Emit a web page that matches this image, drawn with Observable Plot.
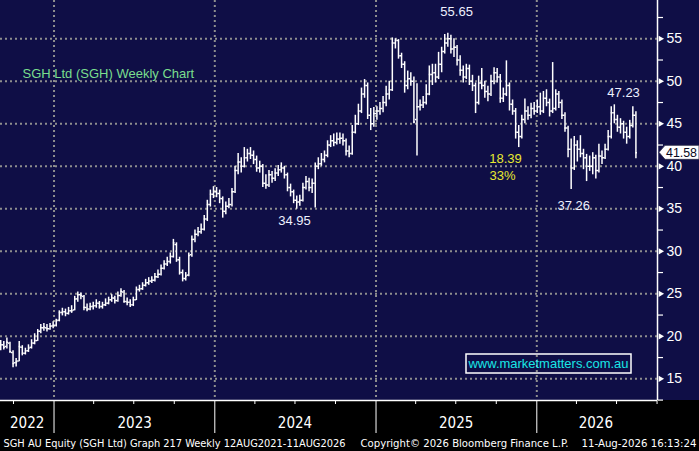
<!DOCTYPE html>
<html>
<head>
<meta charset="utf-8">
<script src="https://cdn.jsdelivr.net/npm/d3@7"></script>
<script src="https://cdn.jsdelivr.net/npm/@observablehq/plot@0.6"></script>
<style>
  html, body { margin: 0; padding: 0; background: #000; }
  #chart svg { display: block; }
</style>
</head>
<body>
<div id="chart"></div>
<script>
// ---- Data (weekly OHLC, Fridays) ----
const firstWeek = "2022-09-02";
const lastWeek = "2026-08-14";

const opens = [
  18.6, 19.0, 18.8, 19.2, 18.1, 16.9, 17.1, 18.7, 18.0, 18.3,
  18.7, 19.2, 19.5, 20.6, 21.0, 21.0, 20.9, 21.2, 21.3, 21.9,
  22.8, 22.9, 22.7, 23.0, 23.1, 24.4, 24.9, 24.7, 23.4, 23.2,
  23.5, 23.6, 23.9, 23.5, 23.7, 23.9, 24.3, 24.5, 24.2, 24.8,
  25.2, 24.1, 24.0, 23.7, 24.3, 25.5, 25.6, 26.0, 26.3, 26.5,
  26.6, 27.0, 27.3, 28.0, 28.5, 28.8, 29.4, 30.8, 29.0, 27.5,
  26.8, 27.2, 29.6, 31.4, 32.0, 32.3, 32.6, 33.8, 35.5, 36.7,
  37.0, 36.8, 36.2, 34.7, 35.3, 35.5, 37.0, 39.5, 40.5, 40.0,
  41.0, 41.5, 41.3, 40.8, 39.8, 40.0, 38.0, 37.8, 39.0, 38.6,
  39.2, 39.6, 39.8, 39.0, 37.5, 37.0, 36.0, 35.8, 36.0, 37.5,
  38.2, 37.5, 38.0, 40.0, 40.3, 40.8, 41.3, 42.5, 43.0, 42.8,
  43.2, 43.3, 43.0, 41.8, 41.5, 44.0, 45.0, 46.5, 48.5, 49.5,
  46.0, 45.0, 46.2, 46.5, 46.8, 47.5, 48.5, 49.0, 54.5, 54.8,
  53.0, 52.0, 49.5, 50.3, 50.0, 45.5, 47.0, 47.2, 47.5, 48.5,
  50.8, 51.0, 50.5, 52.0, 53.5, 54.5, 55.0, 53.8, 54.0, 52.5,
  51.3, 50.5, 51.5, 50.0, 49.5, 47.5, 49.8, 49.5, 48.8, 48.5,
  50.0, 51.0, 50.5, 48.0, 48.5, 49.5, 47.3, 46.5, 44.0, 43.5,
  45.5, 46.5, 46.0, 46.8, 46.5, 47.0, 46.5, 48.0, 47.5, 46.5,
  46.8, 48.5, 47.5, 46.0, 44.5, 42.0, 39.8, 42.5, 42.0, 41.5,
  41.0, 40.0, 40.0, 41.0, 39.5, 41.2, 41.0, 42.0, 43.5, 46.3,
  45.5, 44.6, 45.0, 44.0, 43.5, 44.8, 46.0
];
const highs = [
  19.5, 19.4, 19.8, 19.3, 18.3, 17.4, 19.4, 18.9, 18.6, 19.0,
  19.6, 20.3, 20.8, 21.4, 21.5, 21.4, 21.5, 21.7, 22.0, 23.0,
  23.3, 23.2, 23.4, 23.6, 24.7, 25.2, 25.1, 24.8, 23.8, 23.9,
  24.0, 24.3, 24.1, 24.0, 24.4, 24.6, 24.9, 24.7, 25.2, 25.6,
  25.4, 24.5, 24.3, 24.6, 25.8, 26.0, 26.3, 26.7, 26.9, 27.0,
  27.4, 27.8, 28.4, 28.9, 29.3, 29.8, 31.4, 31.0, 29.3, 27.8,
  27.5, 29.8, 31.8, 32.5, 32.8, 33.2, 34.2, 36.0, 37.2, 37.6,
  37.5, 37.2, 36.4, 35.8, 36.2, 37.4, 40.0, 41.5, 41.0, 42.2,
  42.0, 42.2, 41.8, 41.2, 40.6, 40.2, 39.0, 39.5, 39.4, 39.7,
  40.1, 40.4, 40.0, 39.2, 37.9, 37.2, 36.5, 36.6, 38.0, 38.8,
  38.6, 38.5, 40.4, 41.0, 41.5, 41.8, 43.0, 43.6, 43.8, 43.9,
  43.9, 43.8, 43.2, 42.4, 44.8, 46.0, 47.3, 49.2, 50.2, 49.8,
  46.8, 46.9, 47.0, 47.5, 48.2, 49.4, 50.0, 55.1, 55.0, 54.9,
  53.3, 52.3, 51.2, 51.0, 50.5, 49.7, 47.8, 48.2, 49.6, 51.8,
  52.0, 52.0, 53.4, 54.0, 55.5, 55.65, 55.4, 55.0, 54.2, 53.0,
  51.8, 52.0, 51.9, 50.7, 49.8, 50.6, 51.5, 50.0, 49.4, 50.7,
  51.6, 51.5, 50.8, 49.2, 52.4, 49.8, 47.8, 46.8, 44.8, 46.0,
  47.9, 47.0, 47.4, 47.5, 47.8, 48.6, 48.8, 49.0, 47.9, 52.2,
  49.0, 48.8, 47.8, 46.3, 44.7, 43.2, 43.5, 43.0, 43.6, 42.0,
  41.4, 41.2, 41.6, 41.3, 42.6, 41.8, 42.6, 44.2, 47.0, 47.23,
  46.0, 45.6, 45.3, 44.6, 45.4, 47.0, 46.4
];
const lows = [
  18.3, 18.4, 18.5, 18.0, 16.3, 16.4, 17.0, 17.7, 17.8, 18.1,
  18.5, 19.0, 19.4, 20.3, 20.6, 20.5, 20.7, 20.9, 21.1, 21.7,
  22.4, 22.3, 22.5, 22.7, 23.0, 24.0, 24.3, 23.0, 22.9, 23.0,
  23.1, 23.3, 23.2, 23.2, 23.5, 23.7, 24.0, 23.8, 24.0, 24.6,
  23.9, 23.6, 23.4, 23.5, 24.2, 25.2, 25.4, 25.8, 26.0, 26.2,
  26.4, 26.8, 27.1, 27.8, 28.2, 28.5, 29.2, 28.7, 27.2, 26.4,
  26.5, 27.0, 29.3, 31.0, 31.7, 32.0, 32.4, 33.5, 35.2, 36.2,
  36.3, 35.6, 33.9, 34.3, 35.0, 35.2, 36.8, 39.0, 39.2, 39.8,
  40.5, 40.8, 40.2, 39.3, 39.2, 37.5, 37.3, 37.5, 38.0, 38.2,
  38.8, 39.2, 38.5, 37.0, 36.4, 35.6, 34.95, 35.3, 35.8, 37.2,
  37.0, 36.8, 35.1, 39.6, 40.0, 40.4, 41.0, 42.2, 42.3, 42.5,
  42.6, 42.4, 41.2, 41.0, 41.3, 43.8, 44.8, 46.2, 48.0, 45.5,
  44.2, 44.6, 45.4, 46.0, 46.3, 47.0, 47.8, 48.8, 53.8, 52.6,
  51.5, 48.6, 49.0, 49.4, 45.0, 41.2, 46.5, 46.8, 47.2, 48.3,
  49.5, 49.8, 50.2, 51.0, 53.2, 54.0, 53.2, 52.8, 51.8, 50.6,
  49.8, 50.2, 49.5, 48.8, 46.2, 47.2, 49.0, 48.0, 47.6, 48.2,
  49.6, 49.8, 47.4, 47.5, 48.2, 46.5, 46.0, 43.2, 42.2, 43.2,
  45.0, 45.4, 45.6, 46.0, 46.2, 46.0, 46.2, 47.0, 45.8, 46.2,
  46.5, 46.8, 45.5, 44.0, 41.0, 37.26, 39.5, 40.5, 41.0, 39.6,
  38.2, 39.4, 39.0, 38.5, 39.2, 40.2, 40.8, 41.8, 43.2, 45.0,
  44.0, 43.8, 43.2, 42.6, 43.2, 44.5, 40.9
];
const closes = [
  19.0, 18.7, 19.3, 18.2, 16.8, 17.0, 18.8, 18.0, 18.3, 18.6,
  19.2, 19.5, 20.6, 21.0, 21.1, 20.9, 21.2, 21.3, 21.8, 22.8,
  22.9, 22.7, 23.0, 23.0, 24.4, 24.9, 24.8, 23.4, 23.2, 23.5,
  23.6, 23.9, 23.5, 23.7, 23.9, 24.3, 24.5, 24.2, 24.8, 25.3,
  24.1, 24.0, 23.7, 24.3, 25.5, 25.6, 26.0, 26.3, 26.5, 26.6,
  27.0, 27.3, 28.0, 28.5, 28.8, 29.4, 31.0, 29.0, 27.5, 26.8,
  27.1, 29.5, 31.4, 32.0, 32.3, 32.6, 33.8, 35.5, 36.7, 37.0,
  36.8, 36.2, 34.7, 35.3, 35.5, 37.0, 39.5, 40.5, 40.0, 41.0,
  41.5, 41.3, 40.8, 39.8, 40.0, 38.0, 37.8, 39.0, 38.6, 39.2,
  39.6, 39.8, 39.0, 37.5, 37.0, 36.0, 35.8, 36.0, 37.5, 38.2,
  37.5, 38.0, 40.0, 40.3, 40.8, 41.3, 42.5, 43.0, 42.8, 43.2,
  43.3, 43.0, 41.8, 41.5, 44.0, 45.0, 46.5, 48.5, 49.5, 46.0,
  45.0, 46.2, 46.5, 46.8, 47.5, 48.5, 49.0, 54.5, 54.8, 53.0,
  52.0, 49.5, 50.3, 50.0, 45.2, 47.0, 47.2, 47.5, 48.5, 50.8,
  51.0, 50.5, 52.0, 53.5, 54.5, 55.0, 53.8, 54.0, 52.5, 51.3,
  50.5, 51.5, 50.0, 49.5, 47.5, 49.8, 49.5, 48.8, 48.5, 50.0,
  51.0, 50.5, 48.0, 48.5, 49.5, 47.3, 46.5, 44.0, 43.5, 45.5,
  46.5, 46.0, 46.8, 46.5, 47.0, 46.5, 48.0, 47.5, 46.5, 46.8,
  48.5, 47.5, 46.0, 44.5, 42.0, 39.8, 42.5, 42.0, 41.5, 41.0,
  40.0, 40.0, 41.0, 39.5, 41.2, 41.0, 42.0, 43.5, 46.3, 45.5,
  44.6, 45.0, 44.0, 43.5, 44.8, 46.0, 41.58
];

// ---- Axis ticks / labels ----
const yMajorTicks = [15, 20, 25, 30, 35, 40, 45, 50, 55];
const yMinorTicks = [12.5, 17.5, 22.5, 27.5, 32.5, 37.5, 42.5, 47.5, 52.5, 57.5];
const yearStarts = ["2023-01-01", "2024-01-01", "2025-01-01", "2026-01-01"];
const quarterTicks = [
  "2022-10-01", "2023-04-01", "2023-07-01", "2023-10-01",
  "2024-04-01", "2024-07-01", "2024-10-01",
  "2025-04-01", "2025-07-01", "2025-10-01",
  "2026-04-01", "2026-07-01", "2026-10-01"
];
const yearLabels = ["2022", "2023", "2024", "2025", "2026"];
const yearLabelDates = ["2022-11-01", "2023-07-03", "2024-07-01", "2025-07-02", "2026-05-15"];

// ---- Annotations ----
const peakHigh = 55.65, peakDate = "2025-07-03";
const dipLow = 34.95, dipDate = "2024-06-30";
const recentLow = 37.26, recentLowDate = "2026-03-26";
const recentHigh = 47.23, recentHighDate = "2026-07-17";
const dropDate = "2025-10-22";
const titleText = "SGH Ltd (SGH) Weekly Chart";
const footerLeft = "SGH AU Equity (SGH Ltd) Graph 217 Weekly 12AUG2021-11AUG2026";
const footerMid = "Copyright\u00A9 2026 Bloomberg Finance L.P.";
const footerRight = "11-Aug-2026 16:13:24";
const watermark = "www.marketmatters.com.au";

// ---- Build ----
const navy = "#0f0e46";
const gridColor = "#8e8e8e";
const D = s => new Date(s + "T00:00:00Z");
const weeks = d3.utcFriday.range(D(firstWeek), d3.utcDay.offset(D(lastWeek), 1));
const bars = closes.map((c, i) => ({date: weeks[i], open: opens[i], high: highs[i], low: lows[i], close: c}));
const halfWeekTick = 3.5 * 24 * 3600e3;
const xDomain = [new Date("2022-09-01T12:00:00Z"), new Date("2026-10-02T00:00:00Z")];
const yDomain = [12.45, 59.5];
const drop = peakHigh - recentLow;
const dropPct = drop / peakHigh;
const narrow = "'Liberation Sans Narrow', 'DejaVu Sans Condensed', 'Liberation Sans', sans-serif";

const plot = Plot.plot({
  width: 699,
  height: 451,
  marginLeft: 0,
  marginRight: 42,
  marginTop: 0,
  marginBottom: 51,
  style: {background: "#000", color: "#fff", fontFamily: "'Liberation Sans', Arial, sans-serif", fontSize: "13px", overflow: "visible"},
  x: {type: "utc", domain: xDomain, axis: null},
  y: {domain: yDomain, axis: null},
  marks: [
    // grid
    Plot.ruleY(yMajorTicks, {y: d => d, stroke: gridColor, strokeWidth: 2, strokeDasharray: "2,3"}),
    Plot.ruleX(yearStarts, {x: d => D(d), stroke: gridColor, strokeWidth: 2, strokeDasharray: "2,3"}),
    // OHLC bars
    Plot.ruleX(bars, {x: "date", y1: "low", y2: "high", stroke: "#fff", strokeWidth: 1.5}),
    Plot.ruleY(bars, {x1: d => new Date(+d.date - halfWeekTick), x2: "date", y: "open", stroke: "#fff", strokeWidth: 1.5}),
    Plot.ruleY(bars, {x1: "date", x2: d => new Date(+d.date + halfWeekTick), y: "close", stroke: "#fff", strokeWidth: 1.5}),
    // frame lines
    Plot.ruleX([xDomain[1]], {stroke: "#fff", strokeWidth: 1.5}),
    Plot.ruleY([yDomain[0]], {stroke: "#fff", strokeWidth: 1.5}),
    // right axis
    Plot.axisY(yMinorTicks, {anchor: "right", tickSize: 5, tickFormat: () => "", stroke: "#fff", strokeWidth: 1.2}),
    Plot.axisY(yMajorTicks, {anchor: "right", tickSize: 0, tickPadding: 9, fill: "#fff", fontSize: 14}),
    Plot.dot(yMajorTicks, {y: d => d, frameAnchor: "right", symbol: "triangle", rotate: 90, r: 2.3, fill: "#fff", stroke: null, dx: 3}),
    // bottom axis
    Plot.axisX(quarterTicks.map(D), {anchor: "bottom", tickSize: 4, tickFormat: () => "", stroke: "#fff"}),
    Plot.axisX(yearStarts.map(D), {anchor: "bottom", tickSize: 33, tickFormat: () => "", stroke: "#fff", strokeWidth: 1}),
    Plot.text(yearLabels, {x: (d, i) => D(yearLabelDates[i]), text: d => d, frameAnchor: "bottom", dy: 27, fill: "#fff", fontSize: 15, fontFamily: narrow}),
    // annotations
    Plot.text([peakHigh], {x: D(peakDate), y: d => d, text: d => d3.format(".2f")(d), dy: -21, fill: "#eef0ff", fontSize: 13}),
    Plot.text([dipLow], {x: D(dipDate), y: d => d, text: d => d3.format(".2f")(d), dy: 12, fill: "#eef0ff", fontSize: 13}),
    Plot.text([recentLow], {x: D(recentLowDate), y: d => d, text: d => d3.format(".2f")(d), dy: 16, fill: "#eef0ff", fontSize: 13}),
    Plot.text([recentHigh], {x: D(recentHighDate), y: d => d, text: d => d3.format(".2f")(d), dy: -12, fill: "#eef0ff", fontSize: 13}),
    Plot.text([drop], {x: D(dropDate), y: recentLow, text: d => d3.format(".2f")(d), dy: -31, fill: "#e8e830", fontSize: 13}),
    Plot.text([dropPct], {x: D(dropDate), y: recentLow, text: d => d3.format(".0%")(d), dx: -3, dy: -14, fill: "#e8e830", fontSize: 13}),
    // title
    Plot.text([titleText], {text: d => d, frameAnchor: "top-left", dx: 22, dy: 73, textAnchor: "start", lineAnchor: "middle", fill: "#7ade8e", fontSize: 13}),
    // footer
    Plot.text([footerLeft], {text: d => d, frameAnchor: "bottom-left", dx: 3, dy: 43, textAnchor: "start", lineAnchor: "middle", fill: "#fff", fontSize: 11, fontFamily: narrow}),
    Plot.text([footerMid], {text: d => d, frameAnchor: "bottom-left", dx: 360, dy: 43, textAnchor: "start", lineAnchor: "middle", fill: "#fff", fontSize: 11, fontFamily: narrow}),
    Plot.text([footerRight], {text: d => d, frameAnchor: "bottom-left", dx: 581, dy: 43, textAnchor: "start", lineAnchor: "middle", fill: "#fff", fontSize: 11, fontFamily: narrow})
  ]
});

const svg = d3.select(plot);
// navy chart background (plot area + right axis area)
svg.insert("rect", ":first-child")
  .attr("x", 0).attr("y", 0).attr("width", 699).attr("height", 400)
  .attr("fill", navy);

// fit footer text widths
const fits = [[footerLeft, 342], [footerMid, 208], [footerRight, 115]];
svg.selectAll("text").each(function () {
  const f = fits.find(([t]) => t === this.textContent);
  if (f) d3.select(this).attr("textLength", f[1]).attr("lengthAdjust", "spacingAndGlyphs");
});

// last price flag on right axis
const yS = plot.scale("y");
const lastClose = closes[closes.length - 1];
const ly = yS.apply(lastClose);
const fx = 659;
const flag = svg.append("g");
flag.append("path")
  .attr("d", `M${fx},${ly} L${fx + 6},${ly - 7} L${fx + 40},${ly - 7} L${fx + 40},${ly + 7} L${fx + 6},${ly + 7} Z`)
  .attr("fill", "#fff").attr("stroke", "#30304a").attr("stroke-width", 0.8);
flag.append("text")
  .attr("x", fx + 7).attr("y", ly).attr("dy", "0.35em")
  .attr("text-anchor", "start")
  .attr("fill", "#0a0a20").attr("font-size", 12)
  .attr("font-family", "'Liberation Sans', Arial, sans-serif")
  .attr("textLength", 31).attr("lengthAdjust", "spacingAndGlyphs")
  .text(d3.format(".2f")(lastClose));

// watermark
const wm = svg.append("g");
wm.append("rect").attr("x", 466).attr("y", 354).attr("width", 165).attr("height", 19)
  .attr("fill", "none").attr("stroke", "#fff").attr("stroke-width", 1.5);
wm.append("text").attr("x", 548.5).attr("y", 363.5).attr("dy", "0.35em")
  .attr("text-anchor", "middle").attr("fill", "#19e6e6").attr("font-size", 13)
  .attr("font-family", "'Liberation Sans', Arial, sans-serif")
  .attr("textLength", 160).attr("lengthAdjust", "spacingAndGlyphs")
  .text(watermark);

document.getElementById("chart").appendChild(plot);
</script>
</body>
</html>
